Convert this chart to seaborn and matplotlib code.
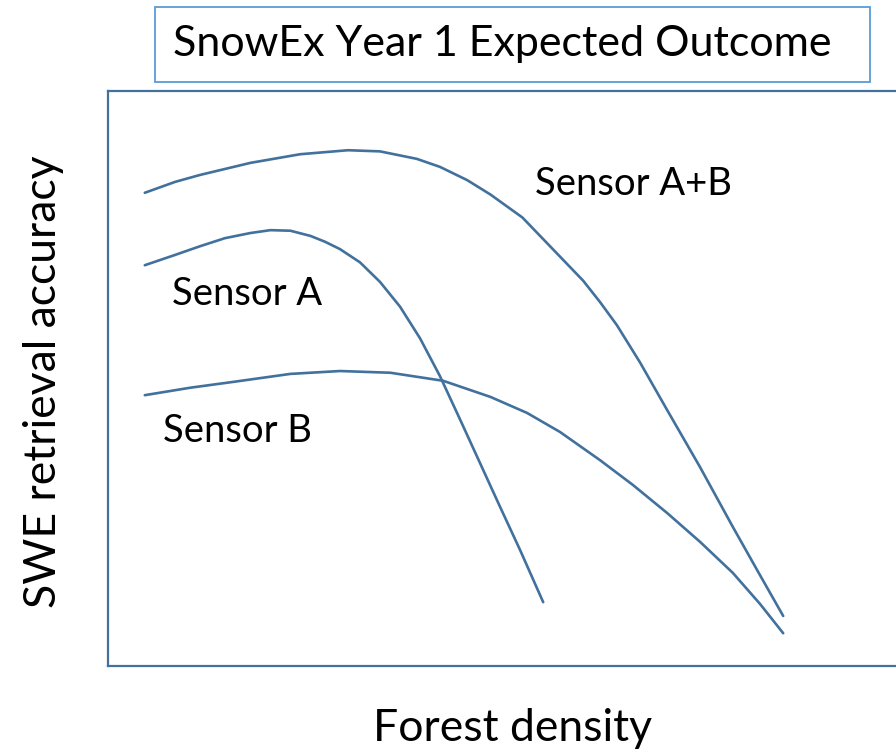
import pandas as pd
import seaborn as sns
import matplotlib.pyplot as plt
from matplotlib.patches import Rectangle

# Conceptual curves (forest density vs retrieval accuracy, 0-10 scale)
ab_density = [0.46, 0.84, 1.15, 1.78, 2.4, 3.0, 3.4, 3.86, 4.15, 4.49, 4.78, 5.18, 5.65,
              5.94, 6.15, 6.36, 6.65, 6.99, 7.4, 7.81, 8.15, 8.44]
ab_accuracy = [8.23, 8.42, 8.54, 8.75, 8.9, 8.97, 8.95, 8.82, 8.68, 8.45, 8.2, 7.8, 7.12,
               6.7, 6.33, 5.93, 5.28, 4.45, 3.46, 2.42, 1.58, 0.87]

a_density = [0.46, 0.84, 1.15, 1.46, 1.78, 2.03, 2.28, 2.53, 2.71, 2.9, 3.15, 3.4, 3.65,
             3.9, 4.15, 4.4, 4.65, 4.9, 5.15, 5.44]
a_accuracy = [6.97, 7.15, 7.3, 7.44, 7.53, 7.58, 7.57, 7.48, 7.38, 7.25, 7.02, 6.68, 6.25,
              5.7, 5.04, 4.29, 3.53, 2.77, 2.02, 1.11]

b_density = [0.46, 1.03, 1.56, 2.28, 2.9, 3.53, 4.19, 4.78, 5.24, 5.65, 6.15, 6.56, 6.99,
             7.4, 7.81, 8.15, 8.44]
b_accuracy = [4.71, 4.84, 4.94, 5.08, 5.13, 5.1, 4.96, 4.68, 4.4, 4.07, 3.58, 3.15, 2.66,
              2.16, 1.62, 1.08, 0.57]

sensor_names = ['Sensor A+B', 'Sensor A', 'Sensor B']

df = pd.concat([
    pd.DataFrame({'density': ab_density, 'accuracy': ab_accuracy, 'sensor': sensor_names[0]}),
    pd.DataFrame({'density': a_density, 'accuracy': a_accuracy, 'sensor': sensor_names[1]}),
    pd.DataFrame({'density': b_density, 'accuracy': b_accuracy, 'sensor': sensor_names[2]}),
])

sns.set_style('white')
plt.rcParams['font.family'] = ['Lato', 'DejaVu Sans']
plt.rcParams['text.color'] = 'black'

W, H = 896, 756
line_color = '#41719C'
fig = plt.figure(figsize=(W / 100, H / 100), dpi=100)

def fx(px):
    return px / W

def fy(py):
    return 1 - py / H

# axes frame runs off the right edge of the canvas
ax = fig.add_axes([fx(108), fy(666), 800 / W, 575 / H])
sns.lineplot(data=df, x='density', y='accuracy', hue='sensor',
             palette=[line_color] * 3, estimator=None, sort=False,
             legend=False, linewidth=1.9, ax=ax)
ax.set_xlim(0, 10)
ax.set_ylim(0, 10)
ax.set_xticks([])
ax.set_yticks([])
ax.set_xlabel('')
ax.set_ylabel('')
for side in ['left', 'top', 'bottom']:
    ax.spines[side].set_color(line_color)
    ax.spines[side].set_linewidth(1.6)
ax.spines['right'].set_visible(False)

# curve labels
fs = 27.5
ax.text(5.34, (666 - 195) / 57.5, 'Sensor A+B', fontsize=fs, ha='left', va='baseline')
ax.text(0.80, (666 - 305) / 57.5, 'Sensor A', fontsize=fs, ha='left', va='baseline')
ax.text(0.69, (666 - 442) / 57.5, 'Sensor B', fontsize=fs, ha='left', va='baseline')

# title box
fig.patches.append(Rectangle((fx(155), fy(82)), 715 / W, 75 / H, transform=fig.transFigure,
                             fill=False, edgecolor='#5B9BD5', linewidth=1.3))
fig.text(fx(173), fy(56), 'SnowEx Year 1 Expected Outcome', fontsize=31, ha='left', va='baseline')

fig.text(fx(513), fy(741), 'Forest density', fontsize=32, ha='center', va='baseline')
fig.text(fx(44), fy(382), 'SWE retrieval accuracy', fontsize=32, ha='center', va='center', rotation=90)

fig.savefig('out.png', dpi=100)
